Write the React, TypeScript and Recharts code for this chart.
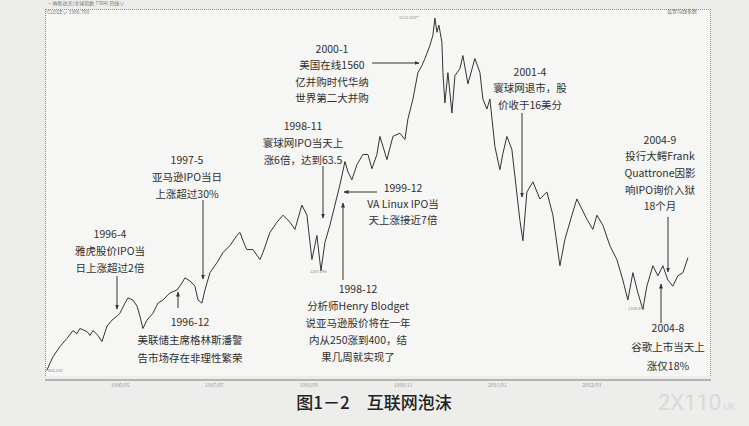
import { LineChart, Line, XAxis, YAxis } from 'recharts'

// months since 1995/01
const months = [
  5.12, 6.05, 7.09, 8.13, 9.02, 9.61, 10.06, 11.1, 11.54, 11.99, 12.73, 13.32, 14.07, 14.81, 15.55,
  15.99, 16.74, 17.18, 17.92, 18.52, 18.96, 19.41, 20.0, 20.89, 21.63, 22.37, 23.41, 24.45, 25.19,
  25.64, 26.38, 27.12, 27.57, 28.16, 28.61, 29.35, 30.39, 31.28, 32.31, 33.35, 33.8, 34.54, 34.84,
  35.73, 36.77, 37.21, 38.25, 39.29, 40.18, 41.22, 41.96, 42.99, 43.74, 44.48, 45.22, 45.82, 46.41,
  47.15, 47.89, 48.63, 49.38, 49.82, 50.41, 51.16, 52.05, 52.79, 53.38, 54.12, 54.57, 55.61, 56.5,
  57.54, 58.28, 58.72, 59.47, 60.21, 60.8, 61.25, 61.99, 62.43, 62.73, 63.03, 63.32, 63.77, 63.92,
  64.21, 64.66, 65.25, 65.7, 66.44, 66.88, 67.63, 68.66, 69.41, 69.85, 70.45, 70.89, 71.63, 72.37,
  72.82, 73.41, 74.15, 74.9, 75.34, 75.79, 76.38, 77.27, 78.31, 79.35, 80.24, 81.28, 82.02, 83.06,
  83.8, 84.54, 85.28, 86.17, 86.77, 87.66, 88.69, 89.73, 90.62, 91.36, 92.11, 92.85, 93.59, 94.18,
  95.08, 95.82, 96.56, 97.3, 98.04, 98.78, 99.53, 100.27,
]

const closes = [
  803, 863, 911, 951, 991, 975, 1002, 986, 966, 991, 966, 935, 1014, 1047, 1069,
  1086, 1145, 1177, 1164, 1127, 1069, 1002, 1047, 1086, 1145, 1164, 1208, 1227, 1273,
  1308, 1287, 1252, 1164, 1145, 1227, 1344, 1417, 1494, 1550, 1635, 1661, 1550, 1518,
  1518, 1440, 1494, 1661, 1753, 1819, 1753, 1688, 1918, 1819, 1440, 1635, 1357, 1576,
  1725, 1918, 2133, 2412, 2286, 2191, 2374, 2503, 2503, 2323, 2503, 2754, 2437, 2754,
  2800, 2710, 3015, 3353, 3852, 3997, 4148, 4444, 4689, 5132, 4763, 4945, 4516, 3852,
  3283, 3852, 3113, 3790, 3934, 4214, 3631, 4148, 3852, 3353, 3180, 3353, 2612, 2310,
  2515, 2754, 2570, 2034, 1771, 1590, 2055, 2168, 1981, 2055, 1819, 1394, 1601, 1819,
  1981, 1878, 1781, 1688, 1819, 1725, 1550, 1440, 1293, 1164, 1344, 1208, 1108, 1252,
  1394, 1322, 1394, 1293, 1252, 1322, 1344, 1454,
]

const tickMonths = [16, 30, 44, 58, 72, 86]
const tickLabels = ['1996/05', '1997/07', '1998/09', '1999/11', '2001/01', '2002/03']

const data = months.map((m, i) => ({ m, close: closes[i] }))

const notes = [
  { cx: 110, y: 233, step: 17, lines: ['1996-4', '雅虎股价IPO当', '日上涨超过2倍'], arrow: [117, 276, 117, 309] },
  { cx: 187, y: 159, step: 17, lines: ['1997-5', '亚马逊IPO当日', '上涨超过30%'], arrow: [203, 200, 203, 279] },
  { cx: 190, y: 321, step: 18, lines: ['1996-12', '美联储主席格林斯潘警', '告市场存在非理性繁荣'], arrow: [178, 308, 178, 292] },
  { cx: 303, y: 125, step: 17, lines: ['1998-11', '寰球网IPO当天上', '涨6倍，达到63.5'], arrow: [323, 166, 323, 218] },
  { cx: 403, y: 187, step: 16, lines: ['1999-12', 'VA Linux IPO当', '天上涨接近7倍'], arrow: [377, 192, 344, 192] },
  { cx: 358, y: 288, step: 17, lines: ['1998-12', '分析师Henry Blodget', '说亚马逊股价将在一年', '内从250涨到400，结', '果几周就实现了'], arrow: [343, 280, 343, 203] },
  { cx: 332, y: 48, step: 16.5, lines: ['2000-1', '美国在线1560', '亿并购时代华纳', '世界第二大并购'], arrow: [372, 63, 419, 63] },
  { cx: 530, y: 71, step: 16.5, lines: ['2001-4', '寰球网退市，股', '价收于16美分'], arrow: [522, 113, 522, 197] },
  { cx: 660, y: 139, step: 16.7, lines: ['2004-9', '投行大鳄Frank', 'Quattrone因影', '响IPO询价入狱', '18个月'], arrow: [668, 217, 668, 272] },
  { cx: 668, y: 327, step: 19, lines: ['2004-8', '谷歌上市当天上', '涨仅18%'], arrow: [661, 323, 661, 284] },
]

const ink = '#2f2f2f'
const cjk = '"Noto Sans CJK SC", "Noto Sans", sans-serif'

export default function App() {
  return (
    <div style={{ position: 'absolute', left: 0, top: 0, width: 749, height: 426, background: '#ededeb', overflow: 'hidden', fontFamily: cjk }}>
      {/* chart box */}
      <div style={{ position: 'absolute', left: 45, top: 9, width: 666, height: 367, background: '#f6f6f4', borderTop: '1px dotted #8a8a8a', borderLeft: '1px dotted #8a8a8a', borderRight: '1px dotted #8a8a8a', boxSizing: 'border-box' }} />
      <div style={{ position: 'absolute', left: 0, top: 0 }}>
        <LineChart width={749} height={426} data={data} margin={{ top: 9, right: 38, bottom: 36, left: 45 }}>
          <XAxis
            dataKey="m"
            type="number"
            domain={[4.87, 103.7]}
            ticks={tickMonths}
            tickFormatter={(v: number) => tickLabels[tickMonths.indexOf(v)] ?? ''}
            tick={{ fontSize: 5, fill: '#9a9a9a', dy: -5 }}
            tickLine={false}
            axisLine={{ stroke: '#7a7a7a' }}
            height={10}
            allowDataOverflow
          />
          <YAxis type="number" scale="log" domain={[764, 5384]} allowDataOverflow hide />
          <Line type="linear" dataKey="close" stroke="#333" strokeWidth={1} dot={false} isAnimationActive={false} />
        </LineChart>
      </div>
      <svg width={749} height={426} style={{ position: 'absolute', left: 0, top: 0, pointerEvents: 'none' }}>
        <defs>
          <marker id="ah" viewBox="0 0 10 10" refX="9" refY="5" markerWidth="5" markerHeight="5" orient="auto">
            <path d="M0,1 L10,5 L0,9 z" fill="#333" />
          </marker>
        </defs>
        <text x={47} y={5} fontSize={5} fill="#777">— 纳斯达克(全球指数 7304) 日线∨</text>
        <text x={47} y={14} fontSize={5} fill="#777">CLOSE∨   1906.760</text>
        <text x={697} y={13} fontSize={5} fill="#777" textAnchor="end">设置均线参数</text>
        <text x={420} y={19} fontSize={4} fill="#888" textAnchor="end">5132.520←</text>
        <text x={310} y={273} fontSize={4} fill="#888">1357.090</text>
        <text x={628} y={310} fontSize={4} fill="#888">1108.490</text>
        <text x={48} y={372} fontSize={4} fill="#888">803.250</text>
        {notes.map((n, i) => (
          <g key={i}>
            {n.lines.map((t, j) => (
              <text key={j} x={n.cx} y={n.y + j * n.step} fontSize={10.5} fill={ink} textAnchor="middle" dominantBaseline="central">{t}</text>
            ))}
            <line x1={n.arrow[0]} y1={n.arrow[1]} x2={n.arrow[2]} y2={n.arrow[3]} stroke="#333" strokeWidth={1} markerEnd="url(#ah)" />
          </g>
        ))}
        <text x={374} y={409} fontSize={17} fill="#222" textAnchor="middle" fontWeight={500}>图1－2　互联网泡沫</text>
        <text x={735} y={410} fontSize={22} fill="#d9d9d9" textAnchor="end" fontFamily="Roboto, sans-serif">2X110<tspan fontSize={9}>.UK</tspan></text>
      </svg>
    </div>
  )
}
